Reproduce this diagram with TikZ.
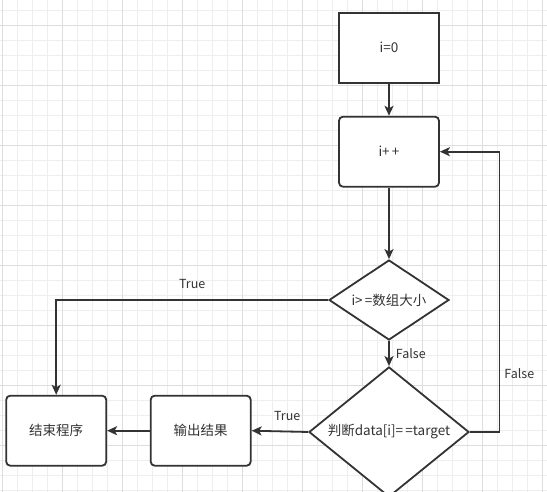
\documentclass[tikz,border=0pt]{standalone}
\usepackage{fontspec}
\setmainfont{Noto Sans CJK SC}
\usetikzlibrary{positioning,arrows.meta,shapes.geometric}
\definecolor{inkgray}{HTML}{333333}
\definecolor{gridminor}{HTML}{EEEEEE}
\definecolor{gridmajor}{HTML}{DDDDDD}
\tikzset{
  flowarrow/.style={-{Stealth[length=10pt, width=9pt, inset=2.5pt]}, line width=1.8pt, inkgray},
  stepbox/.style={draw=inkgray, line width=1.8pt, fill=white, minimum width=100pt, minimum height=70pt, align=center},
  roundbox/.style={stepbox, rounded corners=4pt},
  decision/.style={draw=inkgray, line width=1.8pt, fill=white, diamond, inner sep=0pt, align=center},
  edgelabel/.style={font=\fontsize{12.5}{14}\selectfont, text=inkgray, inner sep=2pt}
}

\begin{document}
\begin{tikzpicture}[x=1pt, y=-1pt, every node/.style={font=\fontsize{13.5}{15}\selectfont, text=inkgray}]
  \useasboundingbox (0,0) rectangle (547,492);
  \clip (0,0) rectangle (547,492);
  \fill[white] (0,0) rectangle (547,492);
  % background grid
  \foreach \gx in {0,...,36} \draw[gridminor, line width=0.8pt] (2.3+15*\gx,0) -- (2.3+15*\gx,492);
  \foreach \gy in {0,...,32} \draw[gridminor, line width=0.8pt] (0,10+15*\gy) -- (547,10+15*\gy);
  \foreach \gx in {0,...,9} \draw[gridmajor, line width=0.8pt] (2.3+60*\gx,0) -- (2.3+60*\gx,492);
  \foreach \gy in {0,...,7} \draw[gridmajor, line width=0.8pt] (0,25+60*\gy) -- (547,25+60*\gy);

  \node[stepbox] (init) at (389,47.7) {i=0};
  \node[roundbox] (incr) at (389,151.7) {i+\,+};
  \node[decision, minimum width=120pt, minimum height=80pt, aspect=1.5] (bound) at (389,300) {i>\,=数组大小};
  \node[decision, minimum width=160pt, minimum height=130pt, aspect=1.23] (match) at (389,432) {判断data[i]=\,=target};
  \node[roundbox] (output) at (200.7,430.7) {输出结果};
  \node[roundbox] (finish) at (56.2,430.7) {结束程序};
  \coordinate (loopback) at (499.5,151.7);

  \draw[flowarrow] (init) -- (incr);
  \draw[flowarrow] (incr) -- (bound);
  \draw[flowarrow] (bound.west) -| node[edgelabel, pos=0.25, above=8pt] {True} (finish.north);
  \draw[flowarrow] (bound) -- node[edgelabel, right=4pt] {False} (match);
  \draw[flowarrow] (match.east) -| node[edgelabel, pos=0.605, right=2pt] {False} (loopback) -- (incr.east);
  \draw[flowarrow] (match.west) -- node[edgelabel, pos=0.37, above=8pt] {True} (output.east);
  \draw[flowarrow] (output) -- (finish);
\end{tikzpicture}
\end{document}
